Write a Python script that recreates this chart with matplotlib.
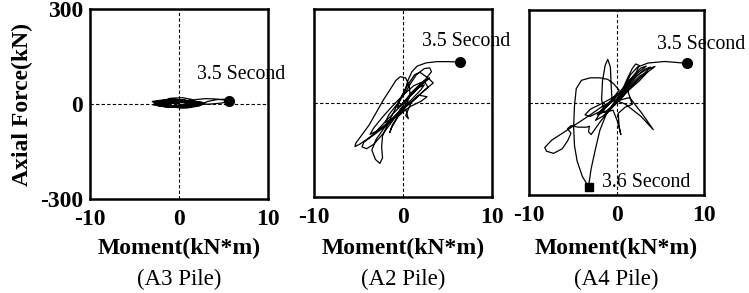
import matplotlib
matplotlib.use("Agg")
import matplotlib.pyplot as plt

plt.rcParams['font.family'] = ['Liberation Serif', 'DejaVu Serif']

# ---- data (moment kN*m, axial force kN) ----
a3_moment = [0.0, -1.2, -2.4, -2.8, -1.9, -0.4, 1.0, 2.2, 2.6, 1.4, 0.2, -1.1, -2.5, -2.9,
             -1.6, 0.3, 1.6, 2.9, 2.0, 0.6, -0.8, -2.2, -2.6, -1.0, 0.5, 1.8, 1.2, -0.2,
             -1.6, -2.7, -2.0, -0.6, 0.8, 2.3, 3.2, 4.3, 5.2, 5.6, 4.8, 3.6, 2.2, 0.9,
             -0.5, -1.8, -2.3, -1.0, 0.4, 1.5, 0.5, -0.7, -2.0, -1.2, 0.0, 1.2, 2.6,
             1.4, 0.0, -1.4, -2.6, -3.0, -2.0, -0.8, 0.6, 1.8, 2.8, 1.6, 0.2, -1.2,
             -2.4, -1.4, 0.1, 1.4, 0.4, -0.9, -2.1, -2.8, -1.5, 0.2, 1.6, 2.4, 1.0,
             -0.3, -1.7, -0.8, 0.6, 1.9, 3.0, 4.0, 5.0, 5.6]
a3_axial = [0, 6, 10, 4, -4, -8, -10, -4, 5, 9, 12, 8, 4, -3, -8, -12, -6, 3, 8, 12, 14,
            10, 2, -4, -9, -2, 6, 10, 6, 0, -6, -10, -13, -6, 8, 14, 15, 10, 3, 0, -2,
            -5, -8, -6, 3, 18, 20, 14, 6, 2, 4, 8, 5, 2, 3,
            -2, -6, -4, 2, 8, 12, 16, 12, 6, 0, -5, -9, -11, -5, 3, 9, 5, -3, -7,
            -4, 4, 10, 13, 8, 2, -4, -8, -3, 4, 9, 14, 17, 16, 13, 10]

a2_moment = [0.0, 1.0, 2.0, 3.0, 2.6, 1.6, 0.4, -0.8, -2.0, -3.0, -3.7, -3.3, -2.3, -1.2,
             0.0, 1.2, 2.4, 2.8, 2.0, 0.8, -0.6, -2.0, -3.0, -3.5, -3.1, -2.6, -2.3,
             -2.4, -2.3, -1.6, -0.8, 0.0, 0.7, 1.3, 1.9, 2.8, 3.4, 2.6, 1.4, 0.0, -1.4,
             -2.8, -4.0, -4.9, -5.4, -5.3, -4.7, -3.8, -3.0, -2.2, -1.4, -0.8, -0.3,
             0.3, 0.7, 0.8, 0.3, -0.5, -1.2, -1.5, -1.3, -0.6, 0.3, 0.6, 0.3, 0.9, 1.8,
             2.7, 2.0, 0.9, -0.4, -1.8, -3.2, -4.4, -4.6, -4.1, -3.3, -2.3, -1.3, -0.3,
             0.7, 1.7, 2.4, 2.0, 1.0, -0.2, -1.2, -2.0, -1.6, -0.7, 0.2, 0.8, 1.5, 2.4,
             3.0, 3.2, 2.6, 1.5, 0.4, -0.6, -0.4, 0.2, 0.6, 1.0, 1.6, 2.6, 3.8, 5.0,
             6.4]
a2_axial = [0, 35, 62, 80, 70, 45, 10, -25, -60, -90, -100, -80, -45, -10, 25, 55, 70,
            50, 30, 0, -35, -75, -115, -150, -180, -193, -175, -140, -105, -60, -15,
            30, 65, 90, 98, 80, 64, 45, 15, -20, -55, -88, -115, -132, -139, -128, -105,
            -70, -30, 10, 45, 72, 84, 80, 55, 25, -10, -40, -70, -95, -80, -45, -20,
            -50, -40, 0, 25, 20, 5, -10, -35, -70, -100, -125, -140, -146, -132, -100,
            -62, -20, 18, 48, 58, 42, 12, -20, -50, -62, -38, -5, 30, 60, 90, 110,
            112, 100, 78, 45, 12, -15, 5, 40, 75, 100, 118, 128, 132, 132, 131]

a4_moment = [-3.2, -2.9, -2.4, -1.9, -1.2, -0.4, 0.4, 1.2, 2.2, 3.3, 4.4, 4.0, 3.0, 1.8,
             0.6, -0.6, -1.6, -2.4, -2.0, -1.0, 0.2, 1.2, 2.0, 2.8, 3.4, 2.6, 1.4, 0.4,
             -0.6, -1.8, -3.0, -3.6, -3.0, -1.8, -0.8, 0.4, 1.2, 1.8, 1.0, 0.2, 0.3,
             0.5, 0.1, -0.4, -1.4, -1.7, -1.6, -1.3, -1.0, -0.7, -0.6, -0.5, 0.4, 1.5,
             2.9, 4.2, 2.8, 1.0, -0.2, -1.5, -3.0, -4.6, -6.2, -7.4, -8.2, -8.0, -7.2,
             -6.2, -5.6, -5.2, -5.6, -5.2, -4.4, -3.4, -3.1, -3.2, -2.9, -2.6, -1.8,
             -0.8, 0.3, 1.4, 2.6, 3.6, 2.6, 1.2, 0.0, -1.2, -2.2, -1.6, -0.5, 0.3,
             -0.3, -1.0, -1.9, -3.0, -4.0, -4.6, -4.8, -4.9, -4.8, -4.5, -3.9, -3.2]
a4_axial = [-273, -215, -150, -90, -40, -5, 25, 55, 85, 105, 117, 108, 88, 55, 15, -20,
            -45, -58, -40, -10, 25, 60, 90, 112, 118, 100, 70, 35, 0, -28, -45, -40,
            -22, -5, 10, 30, 45, -6, -15, -35, -77, -104, -60, -25, -32, 10, 70, 120,
            140, 115, 50, 5, 8, 16, -35, -88, -45, -5, 8, -10, -40, -70, -100, -122,
            -146, -158, -165, -150, -125, -100, -85, -75, -80, -80, -77, -95, -104,
            -92, -60, -25, 15, 50, 85, 100, 70, 35, 0, -28, -40, -20, 10, 40, 60, 75,
            80, 80, 72, 45, -10, -80, -140, -190, -240, -273]
a4_arc_moment = [0.2, 1.3, 2.3, 3.2, 3.9, 3.3, 2.1, 0.9, -0.3, 0.5, 1.2, 1.8, 2.2, 2.6,
                 2.2, 1.3, 0.2, -0.4, 0.4, 1.0, 1.6, 2.4, 3.6, 5.5, 8.1]
a4_arc_axial = [15, 50, 85, 108, 115, 98, 65, 30, -5, 30, 75, 110, 125, 120, 95, 55, 15,
                -10, 20, 55, 90, 115, 128, 133, 127]

dot_points = [(5.6, 10), (6.4, 131), (8.1, 127)]
square_point = (-3.2, -273)
x_ticks = [-10, 0, 10]
y_ticks = [-300, 0, 300]
pile_names = ['(A3 Pile)', '(A2 Pile)', '(A4 Pile)']

W, H = 749, 293
fig = plt.figure(figsize=(W / 100, H / 100), dpi=100)

# axes boxes in pixels: left, top, right, bottom
boxes = [(90, 9, 268, 199), (314, 9, 492, 197), (529, 10, 704, 195)]
axes = []
for (l, t, r, b) in boxes:
    ax = fig.add_axes([l / W, (H - b) / H, (r - l) / W, (b - t) / H])
    axes.append(ax)

traces = [
    [(a3_moment, a3_axial)],
    [(a2_moment, a2_axial)],
    [(a4_moment, a4_axial), (a4_arc_moment, a4_arc_axial)],
]

for i, ax in enumerate(axes):
    ax.set_xlim(-10, 10)
    ax.set_ylim(-300, 300)
    ax.axhline(0, color='black', lw=0.8, ls=(0, (3, 2)), zorder=1)
    ax.axvline(0, color='black', lw=0.8, ls=(0, (3, 2)), zorder=1)
    for xs, ys in traces[i]:
        ax.plot(xs, ys, color='black', lw=0.9, zorder=2)
    ax.plot(*dot_points[i], 'o', color='black', ms=7, zorder=3)
    for s in ax.spines.values():
        s.set_linewidth(1.8)
    ax.set_xticks(x_ticks)
    ax.set_xticklabels([str(v) for v in x_ticks], fontsize=17, fontweight='bold')
    ax.set_yticks(y_ticks)
    if i == 0:
        ax.set_yticklabels([str(v) for v in y_ticks], fontsize=17, fontweight='bold')
    else:
        ax.set_yticklabels([])
    ax.tick_params(axis='x', length=0, pad=7)
    ax.tick_params(axis='y', length=0, pad=5)
    l, t, r, b = boxes[i]
    fig.text((l + r) / 2 / W, 1 - 248 / H, 'Moment(kN*m)', fontsize=17,
             fontweight='bold', ha='center', va='center')
    fig.text((l + r) / 2 / W, 1 - 279 / H, pile_names[i], fontsize=16.5,
             ha='center', va='center')

fig.text(22 / W, 1 - 104 / H, 'Axial Force(kN)', fontsize=17, fontweight='bold',
         rotation=90, ha='center', va='center')

axes[0].text(2.0, 92, '3.5 Second', fontsize=14.3, va='center', clip_on=False)
axes[1].text(2.1, 195, '3.5 Second', fontsize=14.3, va='center', clip_on=False)
axes[2].text(4.6, 188, '3.5 Second', fontsize=14.3, va='center', clip_on=False)
axes[2].plot(*square_point, 's', color='black', ms=6, zorder=3, clip_on=False)
axes[2].text(-1.7, -260, '3.6 Second', fontsize=14.3, va='center', clip_on=False)

fig.savefig('out.png', dpi=100)
